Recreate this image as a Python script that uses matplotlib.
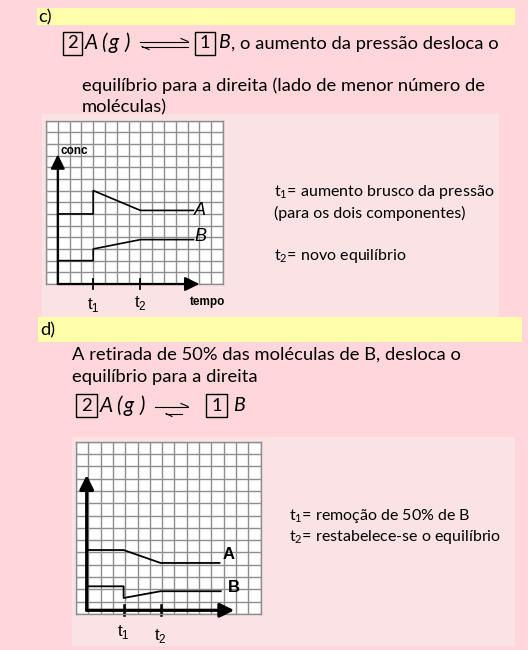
import numpy as np
import matplotlib
matplotlib.use("Agg")
import matplotlib.pyplot as plt
from matplotlib.patches import Rectangle

# ---------------- data ----------------
# chart c)  (units = grid cells, origin at axes corner)
c_time = [0, 3, 3, 7, 11.5]
c_A = [6, 6, 8, 6.3, 6.3]
c_B = [2, 2, 3, 3.8, 3.8]
c_ticks = [3, 7]
c_tick_labels = [r"t$_\mathregular{1}$", r"t$_\mathregular{2}$"]

# chart d)
d_time_A = [0, 3, 6, 10.8]
d_A = [4.9, 4.9, 3.85, 3.85]
d_time_B = [0, 3, 3, 6, 10.9]
d_B = [1.95, 1.95, 1.0, 1.55, 1.55]
d_ticks = [3, 6]
d_tick_labels = [r"t$_\mathregular{1}$", r"t$_\mathregular{2}$"]

W, H = 528, 650
PINK = "#FFD6D9"
PANEL = "#FBE3E5"
YELLOW = "#FFFFAB"
GRID = "#8E8E8E"
TXT = ["Lato", "DejaVu Sans"]
ARIAL = ["Liberation Sans", "DejaVu Sans"]

fig = plt.figure(figsize=(W / 100, H / 100), dpi=100)
fig.patch.set_facecolor(PINK)
ax0 = fig.add_axes([0, 0, 1, 1])
ax0.set_xlim(0, W)
ax0.set_ylim(H, 0)
ax0.axis("off")

# backgrounds
ax0.add_patch(Rectangle((37, 8), 478, 17, fc=YELLOW, ec="none"))
ax0.add_patch(Rectangle((42, 114), 457, 203, fc=PANEL, ec="none"))
ax0.add_patch(Rectangle((38, 317), 484, 25, fc=YELLOW, ec="none"))
ax0.add_patch(Rectangle((72, 437), 443, 209, fc=PANEL, ec="none"))

FS = 13.2
SUB1 = r"t$_\mathregular{1}$"
SUB2 = r"t$_\mathregular{2}$"


def t(x, y, s, **kw):
    kw.setdefault("fontsize", FS)
    kw.setdefault("family", TXT)
    kw.setdefault("va", "center")
    ax0.text(x, y, s, **kw)


def ag(x_pos, y):
    for xx, ch in zip(x_pos, ["A", "(", "g", ")"]):
        t(xx, y, ch, style="italic", fontsize=15)


# ---- c) header
t(38, 17, "c)")
ax0.add_patch(Rectangle((63, 32), 19, 23, fc="none", ec="k", lw=1))
t(72.5, 43.5, "2", ha="center")
ag([85, 101, 108.5, 124.5], 43)
# equilibrium harpoons
ax0.plot([140, 188], [41.5, 41.5], color="k", lw=0.8)
ax0.plot([181, 188], [38.5, 41.5], color="k", lw=0.8)
ax0.plot([142, 188], [46.5, 46.5], color="k", lw=0.8)
ax0.plot([142, 149], [46.5, 49.5], color="k", lw=0.8)
ax0.add_patch(Rectangle((195, 32), 20, 23, fc="none", ec="k", lw=1))
t(205, 43.5, "1", ha="center")
t(218, 43, "B", style="italic", fontsize=14)
t(231, 43.5, ", o aumento da pressão desloca o")
t(82, 85.5, "equilíbrio para a direita (lado de menor número de")
t(82, 107.5, "moléculas)")

t(274, 192, SUB1 + "= aumento brusco da pressão", fontsize=11.5)
t(274, 213, "(para os dois componentes)", fontsize=11.5)
t(274, 256, SUB2 + "= novo equilíbrio", fontsize=11.5)

# ---- d) header
t(40, 330, "d)")
t(72, 355, "A retirada de 50% das moléculas de B, desloca o")
t(72, 377, "equilíbrio para a direita")
ax0.add_patch(Rectangle((76, 394), 21, 23, fc="none", ec="k", lw=1))
t(86.5, 406, "2", ha="center")
ag([100, 116, 123.5, 139.5], 405.5)
ax0.plot([155, 188], [406.5, 406.5], color="k", lw=0.8)
ax0.plot([181, 188], [403.5, 406.5], color="k", lw=0.8)
ax0.plot([166, 182], [413.5, 413.5], color="k", lw=0.8)
ax0.plot([166, 172], [413.5, 416.5], color="k", lw=0.8)
ax0.add_patch(Rectangle((206, 394), 21, 23, fc="none", ec="k", lw=1))
t(216.5, 406, "1", ha="center")
t(233, 405.5, "B", style="italic", fontsize=14)

t(289, 516, SUB1 + "= remoção de 50% de B", fontsize=11.5)
t(289, 537, SUB2 + "= restabelece-se o equilíbrio", fontsize=11.5)


def grid_axes(l, tp, r, b, xlim, ylim, xg, yg):
    ax = fig.add_axes([l / W, 1 - b / H, (r - l) / W, (b - tp) / H])
    ax.set_xlim(*xlim)
    ax.set_ylim(*ylim)
    ax.set_facecolor("white")
    ax.set_xticks(xg)
    ax.set_yticks(yg)
    ax.tick_params(length=0, labelbottom=False, labelleft=False)
    ax.grid(True, color=GRID, lw=1)
    for s in ax.spines.values():
        s.set_color(GRID)
        s.set_linewidth(1)
    return ax


def axis_arrows(ax, lw, xtip, ytip, ticks, tick_half):
    ap = dict(arrowstyle="-|>,head_length=0.85,head_width=0.42", color="k",
              lw=lw, shrinkA=0, shrinkB=0, mutation_scale=10)
    ax.annotate("", xy=(0, ytip), xytext=(0, 0), arrowprops=ap, annotation_clip=False)
    ax.annotate("", xy=(xtip, 0), xytext=(0, 0), arrowprops=ap, annotation_clip=False)
    for tk in ticks:
        ax.plot([tk, tk], [-tick_half, tick_half], color="k", lw=lw * 0.8, clip_on=False)


# ---- chart c
axc = grid_axes(46, 120.5, 223, 284, (-1, 14), (0, 14), np.arange(-1, 15), np.arange(0, 15))
axis_arrows(axc, 1.6, 12.0, 11.1, c_ticks, 0.45)
axc.plot(c_time, c_A, color="k", lw=1.2)
axc.plot(c_time, c_B, color="k", lw=1.2)
axc.text(11.55, 6.3, "A", fontsize=13, family=ARIAL, style="italic", va="center", ha="left")
axc.text(11.55, 4.05, "B", fontsize=13, family=ARIAL, style="italic", va="center", ha="left")
axc.text(0.25, 11.35, "conc", fontsize=8.5, family=ARIAL, weight="bold", va="center", clip_on=False)
axc.text(11.2, -1.5, "tempo", fontsize=8.5, family=ARIAL, weight="bold", va="center", clip_on=False)
for tk, lab, dy in zip(c_ticks, c_tick_labels, [-1.8, -1.65]):
    axc.text(tk, dy, lab, fontsize=12, family=ARIAL, va="center", ha="center", clip_on=False)

# ---- chart d
cell = 12.3
x0, y0 = 86.7, 610.3
dl, dt, dr, db = 76, 441.7, 76 + 15 * cell, 441.7 + 14 * cell
dxlim = ((dl - x0) / cell, (dr - x0) / cell)
dylim = ((y0 - db) / cell, (y0 - dt) / cell)
axd = grid_axes(dl, dt, dr, db, dxlim, dylim,
                dxlim[0] + np.arange(0, 16), dylim[0] + np.arange(0, 15))
axis_arrows(axd, 2.3, 12.0, 11.0, d_ticks, 0.4)
axd.plot(d_time_A, d_A, color="k", lw=1.3)
axd.plot(d_time_B, d_B, color="k", lw=1.3)
axd.text(11.05, 4.5, "A", fontsize=12, family=ARIAL, weight="bold", va="center", ha="left")
axd.text(11.45, 1.85, "B", fontsize=12, family=ARIAL, weight="bold", va="center", ha="left")
for tk, lab, dy in zip(d_ticks, d_tick_labels, [-1.8, -2.1]):
    axd.text(tk, dy, lab, fontsize=12, family=ARIAL, va="center", ha="center", clip_on=False)

fig.savefig("out.png", dpi=100, facecolor=PINK)
